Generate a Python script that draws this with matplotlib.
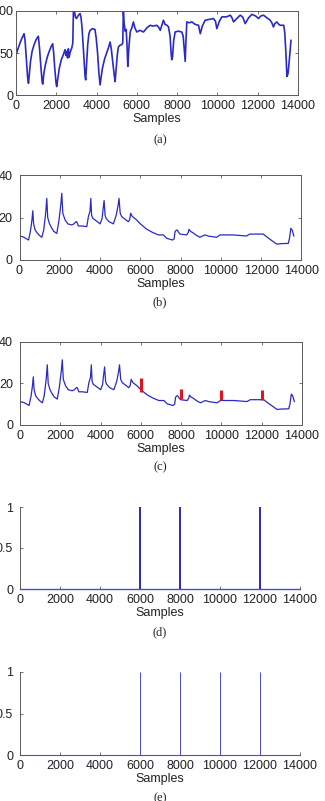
import matplotlib
matplotlib.use("Agg")
import matplotlib.pyplot as plt

# ---- data ----
a_x = [0, 100, 200, 300, 400, 450, 520, 580, 620, 660, 720, 800, 900, 1000, 1110, 1170, 1230, 1300,
       1330, 1380, 1450, 1550, 1650, 1750, 1820, 1870, 1930, 1990, 2020, 2080, 2150, 2250, 2350, 2435,
       2480, 2520, 2560, 2600, 2640, 2680, 2720, 2770, 2820, 2850, 2900, 2950, 3000, 3100, 3180, 3230,
       3280, 3330, 3380, 3430, 3460, 3500, 3560, 3620, 3680, 3800, 3920, 3980, 4050, 4120, 4175, 4230,
       4300, 4400, 4500, 4600, 4670, 4730, 4800, 4870, 4920, 4970, 5030, 5080, 5150, 5250, 5300, 5330,
       5370, 5420, 5470, 5510, 5550, 5600, 5670, 5750, 5830, 5900, 6000, 6150, 6330, 6500, 6660, 6800,
       6990, 7100, 7160, 7250, 7320, 7400, 7500, 7570, 7650, 7700, 7730, 7770, 7830, 7900, 8050, 8230,
       8300, 8350, 8400, 8430, 8480, 8600, 8730, 8900, 9060, 9150, 9250, 9390, 9600, 9800, 9900, 9970,
       10100, 10220, 10450, 10640, 10720, 10800, 11000, 11130, 11250, 11380, 11550, 11710, 11900, 12040,
       12150, 12290, 12450, 12620, 12700, 12780, 12850, 12950, 13050, 13120, 13290, 13340, 13400, 13450,
       13500, 13540, 13600, 13650]
a_y = [48, 55, 62, 68, 73, 65, 40, 20, 14, 25, 40, 52, 60, 66, 70, 55, 35, 15,
       13, 25, 35, 45, 52, 58, 61, 50, 30, 14, 10, 20, 32, 42, 48, 54,
       47, 52, 44, 55, 45, 50, 53, 56, 62, 100, 100, 93, 91, 95, 97, 92,
       80, 60, 40, 22, 18, 35, 60, 73, 77, 79, 78, 68, 50, 25, 12, 22,
       33, 43, 50, 57, 63, 55, 40, 25, 16, 30, 48, 57, 59, 60, 62, 100,
       85, 76, 78, 60, 34, 55, 75, 80, 87, 80, 75, 77, 75, 80, 83, 82,
       83, 80, 77, 84, 89, 84, 83, 81, 70, 50, 42, 45, 65, 75, 76, 75,
       70, 55, 40, 60, 87, 86, 87, 84, 83, 73, 82, 89, 90, 91, 88, 79,
       88, 93, 93, 95, 92, 87, 92, 95, 93, 85, 92, 96, 94, 91,
       94, 95, 92, 89, 86, 81, 85, 87, 84, 83, 83, 75, 50, 22,
       25, 34, 50, 65]

b_x = [0, 200, 450, 550, 620, 660, 700, 780, 900, 1000, 1110, 1200, 1300, 1355, 1400, 1490, 1600,
       1700, 1850, 1950, 2050, 2100, 2150, 2265, 2400, 2595, 2700, 2800, 2840, 2925, 3100, 3340, 3420,
       3500, 3540, 3580, 3640, 3800, 4000, 4100, 4150, 4200, 4250, 4300, 4450, 4660, 4800, 4900, 4940,
       5000, 5075, 5200, 5400, 5470, 5520, 5600, 5820, 6000, 6315, 6600, 6890, 7140, 7310, 7600, 7680,
       7720, 7780, 7830, 7900, 7970, 8300, 8380, 8410, 8500, 8600, 8800, 8960, 9200, 9400, 9790, 9950,
       10300, 10610, 11000, 11270, 11430, 12100, 12260, 12500, 12760, 13000, 13340, 13400, 13470,
       13540, 13620]
b_y = [11.3, 10.8, 9.4, 14.0, 19.0, 23.2, 17.0, 14.0, 12.5, 11.5, 10.7, 14.0, 22.0, 29.0, 20.0, 17.0, 15.0,
       13.5, 12.5, 18.0, 26.0, 31.4, 22.0, 18.8, 17.0, 16.5, 17.0, 18.0, 18.0, 16.0, 16.0, 15.7, 20.4,
       23.0, 29.0, 21.0, 19.6, 18.5, 17.0, 19.5, 24.0, 28.0, 21.0, 19.6, 18.0, 17.0, 21.0, 26.0, 29.0,
       22.0, 20.4, 19.5, 18.0, 19.0, 22.0, 20.5, 18.8, 17.0, 14.5, 13.0, 11.8, 11.8, 10.2, 9.4, 10.0,
       13.3, 14.0, 14.1, 13.0, 12.2, 11.8, 13.0, 14.4, 13.4, 12.9, 11.5, 10.7, 11.8, 11.2, 10.7, 11.8,
       11.8, 11.8, 11.5, 11.3, 12.2, 12.2, 11.0, 9.3, 7.5, 7.7, 7.8, 10.0, 14.9,
       14.0, 11.3]

mark_x = [6000, 8000, 10000, 12000]
mark_lo = [16.0, 12.3, 12.0, 12.0]
mark_hi = [22.7, 17.3, 16.8, 16.8]

d_x = [6000, 8000, 12000]
e_x = [6000, 8000, 10000, 12000]

captions = ["(a)", "(b)", "(c)", "(d)", "(e)"]
xticks = [0, 2000, 4000, 6000, 8000, 10000, 12000, 14000]

# ---- figure ----
W, H = 325, 801
fig = plt.figure(figsize=(W / 100, H / 100), dpi=100)
plt.rcParams['font.family'] = ['Liberation Sans', 'DejaVu Sans']

blue = '#2a2ac4'
spine_c = '#5a5a5a'
txt_c = '#222222'
FS = 9

# (left, right, top, bottom) in pixels
boxes = [(16, 298, 11, 95), (19.5, 301.5, 175, 260), (20, 302, 342, 425),
         (20, 300, 507, 589), (20, 300, 672, 755)]
ypads = [2.0, 5.0, 5.0, 5.0, 5.0]
cap_y = [140, 302, 467, 632, 798]

axes = []
for (l, r, t, b) in boxes:
    ax = fig.add_axes([l / W, 1 - b / H, (r - l) / W, (b - t) / H])
    axes.append(ax)

def style(ax, ypad, full=True):
    for s in ax.spines.values():
        s.set_color(spine_c)
        s.set_linewidth(0.7)
    if not full:
        ax.spines['top'].set_visible(False)
        ax.spines['right'].set_visible(False)
    ax.tick_params(direction='in', length=2.5, width=0.6, colors=spine_c,
                   labelcolor=txt_c, labelsize=FS, top=full, right=full)
    ax.tick_params(axis='x', pad=3.5)
    ax.tick_params(axis='y', pad=ypad)
    ax.set_xlim(0, 14000)
    ax.set_xticks(xticks)
    ax.set_xticklabels([str(v) for v in xticks])
    ax.set_xlabel("Samples", fontsize=FS, color=txt_c, labelpad=1)

# (a)
ax = axes[0]
ax.plot(a_x, a_y, color=blue, lw=1.2)
ax.set_ylim(0, 100)
ax.set_yticks([0, 50, 100])
style(ax, ypads[0])

# (b)
ax = axes[1]
ax.plot(b_x, b_y, color=blue, lw=0.9)
ax.set_ylim(0, 40)
ax.set_yticks([0, 20, 40])
style(ax, ypads[1])

# (c)
ax = axes[2]
ax.plot(b_x, b_y, color=blue, lw=0.9)
ax.vlines(mark_x, mark_lo, mark_hi, color='#e0141e', lw=2.2)
ax.set_ylim(0, 40)
ax.set_yticks([0, 20, 40])
style(ax, ypads[2])

# (d)
ax = axes[3]
ax.plot([0, 14000], [0, 0], color='#4848c8', lw=1.0, clip_on=False)
ax.vlines(d_x, 0, 1, color='#2a2ab4', lw=1.4)
ax.set_ylim(0, 1)
ax.set_yticks([0, 0.5, 1])
ax.set_yticklabels(['0', '0.5', '1'])
style(ax, ypads[3], full=False)

# (e)
ax = axes[4]
ax.plot([0, 14000], [0, 0], color='#5a5ad0', lw=0.8, clip_on=False)
ax.vlines(e_x, 0, 1, color='#4a4ad0', lw=0.7)
ax.set_ylim(0, 1)
ax.set_yticks([0, 0.5, 1])
ax.set_yticklabels(['0', '0.5', '1'])
style(ax, ypads[4], full=False)

for cap, y in zip(captions, cap_y):
    fig.text(160 / W, 1 - y / H, cap, ha='center', va='center', fontsize=FS,
             family=['Liberation Serif', 'DejaVu Serif'], color=txt_c)

fig.savefig("out.png", dpi=100)
